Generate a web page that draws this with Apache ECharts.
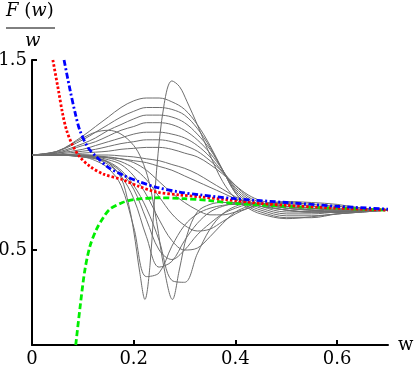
<!DOCTYPE html>
<html>
<head>
<meta charset="utf-8">
<script src="https://cdn.jsdelivr.net/npm/echarts@6/dist/echarts.min.js"></script>
<style>
  html, body { margin: 0; padding: 0; background: #fff; }
  #chart { width: 414px; height: 372px; }
</style>
</head>
<body>
<div id="chart"></div>
<script>
// shared w grid for most of the gray family
const W = [0, 0.05, 0.1, 0.125, 0.15, 0.175, 0.2, 0.225, 0.25, 0.275, 0.3, 0.325, 0.35, 0.375, 0.4, 0.425, 0.45, 0.5, 0.55, 0.6, 0.65, 0.7];

// curves bulging upward
const up1 = [1.00, 1.02, 1.10, 1.15, 1.20, 1.25, 1.285, 1.30, 1.30, 1.28, 1.24, 1.16, 1.05, 0.92, 0.80, 0.73, 0.70, 0.67, 0.67, 0.69, 0.70, 0.71];
const up2 = [1.00, 1.02, 1.08, 1.12, 1.16, 1.20, 1.23, 1.25, 1.25, 1.24, 1.21, 1.14, 1.04, 0.92, 0.80, 0.74, 0.71, 0.68, 0.68, 0.69, 0.70, 0.71];
const up3 = [1.00, 1.015, 1.06, 1.09, 1.13, 1.16, 1.19, 1.21, 1.21, 1.20, 1.17, 1.11, 1.03, 0.92, 0.81, 0.75, 0.72, 0.69, 0.69, 0.70, 0.705, 0.71];
const up4 = [1.00, 1.01, 1.05, 1.07, 1.10, 1.13, 1.15, 1.17, 1.17, 1.16, 1.13, 1.08, 1.01, 0.92, 0.82, 0.76, 0.73, 0.70, 0.70, 0.70, 0.705, 0.71];
const up5 = [1.00, 1.01, 1.03, 1.05, 1.07, 1.09, 1.11, 1.12, 1.12, 1.11, 1.09, 1.05, 0.99, 0.91, 0.83, 0.77, 0.74, 0.71, 0.70, 0.70, 0.705, 0.71];
const up6 = [1.00, 1.005, 1.02, 1.03, 1.045, 1.06, 1.07, 1.08, 1.08, 1.07, 1.05, 1.02, 0.97, 0.91, 0.84, 0.78, 0.75, 0.72, 0.71, 0.71, 0.71, 0.71];
const up7 = [1.00, 1.00, 1.01, 1.015, 1.02, 1.03, 1.035, 1.04, 1.04, 1.03, 1.01, 0.99, 0.95, 0.90, 0.84, 0.79, 0.76, 0.73, 0.72, 0.71, 0.71, 0.71];
// nearly flat ones
const flat1 = [1.00, 1.00, 0.995, 0.99, 0.985, 0.98, 0.97, 0.96, 0.94, 0.92, 0.89, 0.86, 0.83, 0.80, 0.77, 0.75, 0.74, 0.73, 0.72, 0.715, 0.71, 0.71];
const flat2 = [1.00, 1.00, 1.00, 1.00, 1.00, 0.995, 0.99, 0.98, 0.97, 0.95, 0.93, 0.90, 0.86, 0.82, 0.78, 0.75, 0.73, 0.71, 0.70, 0.70, 0.705, 0.71];
// curves dipping downward
const lowA = [1.00, 1.00, 0.99, 0.97, 0.93, 0.84, 0.62, 0.36, 0.38, 0.52, 0.63, 0.69, 0.72, 0.735, 0.74, 0.74, 0.73, 0.71, 0.70, 0.70, 0.705, 0.71];
const lowB = [1.00, 1.00, 0.99, 0.98, 0.95, 0.89, 0.77, 0.57, 0.41, 0.44, 0.55, 0.64, 0.70, 0.73, 0.745, 0.745, 0.74, 0.72, 0.71, 0.70, 0.705, 0.71];
const lowC = [1.00, 1.00, 0.995, 0.985, 0.965, 0.92, 0.84, 0.72, 0.55, 0.34, 0.33, 0.48, 0.61, 0.69, 0.73, 0.745, 0.745, 0.73, 0.71, 0.70, 0.705, 0.71];
const lowD = [1.00, 1.00, 0.99, 0.98, 0.96, 0.91, 0.82, 0.66, 0.50, 0.45, 0.50, 0.58, 0.64, 0.69, 0.72, 0.74, 0.745, 0.74, 0.72, 0.71, 0.71, 0.71];
const lowE = [1.00, 1.00, 0.995, 0.99, 0.975, 0.95, 0.89, 0.79, 0.66, 0.55, 0.50, 0.51, 0.57, 0.64, 0.70, 0.73, 0.745, 0.745, 0.73, 0.72, 0.715, 0.71];
const lowF = [1.00, 1.00, 1.00, 0.995, 0.985, 0.965, 0.93, 0.87, 0.78, 0.69, 0.63, 0.60, 0.61, 0.65, 0.69, 0.72, 0.74, 0.75, 0.74, 0.73, 0.72, 0.71];
const lowG = [1.00, 1.00, 1.00, 0.995, 0.99, 0.98, 0.96, 0.92, 0.86, 0.80, 0.75, 0.71, 0.685, 0.685, 0.70, 0.72, 0.74, 0.755, 0.75, 0.74, 0.72, 0.71];

// deep dip then tall peak (own grid, the features are narrow)
const tallW = [0, 0.05, 0.1, 0.125, 0.15, 0.175, 0.19, 0.2, 0.212, 0.222, 0.232, 0.245, 0.26, 0.275, 0.29, 0.305, 0.325, 0.35, 0.375, 0.4, 0.425, 0.45, 0.5, 0.55, 0.6, 0.65, 0.7];
const tallF = [1.00, 1.00, 0.995, 0.985, 0.96, 0.88, 0.74, 0.60, 0.38, 0.24, 0.42, 0.92, 1.27, 1.39, 1.36, 1.28, 1.16, 1.00, 0.86, 0.77, 0.72, 0.69, 0.665, 0.675, 0.69, 0.70, 0.71];
// early bump then deep dip
const earlyW = [0, 0.05, 0.1, 0.125, 0.15, 0.175, 0.2, 0.215, 0.23, 0.245, 0.26, 0.276, 0.29, 0.305, 0.325, 0.35, 0.375, 0.4, 0.45, 0.5, 0.55, 0.6, 0.65, 0.7];
const earlyF = [1.00, 1.02, 1.09, 1.12, 1.13, 1.11, 1.05, 0.98, 0.86, 0.65, 0.40, 0.24, 0.40, 0.58, 0.70, 0.74, 0.75, 0.75, 0.74, 0.72, 0.71, 0.705, 0.705, 0.71];

const gridCurves = [up1, up2, up3, up4, up5, up6, up7, flat1, flat2, lowA, lowB, lowC, lowD, lowE, lowF, lowG];

// the three reference curves
const redW = [0.041, 0.052, 0.06, 0.068, 0.08, 0.094, 0.114, 0.14, 0.178, 0.21, 0.245, 0.29, 0.33, 0.38, 0.45, 0.5, 0.6, 0.7];
const redF = [1.50, 1.34, 1.22, 1.13, 1.05, 0.99, 0.94, 0.90, 0.87, 0.835, 0.805, 0.79, 0.78, 0.765, 0.745, 0.735, 0.72, 0.71];
const blueW = [0.063, 0.075, 0.085, 0.094, 0.11, 0.127, 0.15, 0.178, 0.21, 0.245, 0.29, 0.33, 0.4, 0.5, 0.6, 0.7];
const blueF = [1.50, 1.34, 1.22, 1.13, 1.04, 0.99, 0.935, 0.895, 0.86, 0.83, 0.805, 0.79, 0.77, 0.75, 0.73, 0.715];
const greenW = [0.086, 0.095, 0.104, 0.114, 0.127, 0.14, 0.153, 0.178, 0.2, 0.25, 0.3, 0.35, 0.4, 0.5, 0.6, 0.7];
const greenF = [0, 0.21, 0.395, 0.52, 0.61, 0.67, 0.715, 0.75, 0.765, 0.775, 0.77, 0.76, 0.745, 0.73, 0.72, 0.71];

const xLabels = [0, 0.2, 0.4, 0.6];
const xTicks = [0.2, 0.4, 0.6];
const yTicks = [0.5, 1.5];

let zip = (xs, ys) => xs.map((x, i) => [x, ys[i]]);
let serif = 'DejaVu Serif';

let grayLine = (data) => ({
  type: 'line',
  data: data,
  smooth: 0.35,
  symbol: 'none',
  lineStyle: { color: '#6e6e6e', width: 1 },
  z: 2
});

let series = gridCurves.map(c => grayLine(zip(W, c)));
series.push(grayLine(zip(tallW, tallF)));
series.push(grayLine(zip(earlyW, earlyF)));

series.push({
  type: 'line', data: zip(greenW, greenF), smooth: 0.3, symbol: 'none', z: 3,
  lineStyle: { color: '#00ee00', width: 2.8, type: [6, 3] }
});
series.push({
  type: 'line', data: zip(redW, redF), smooth: 0.3, symbol: 'none', z: 4,
  lineStyle: { color: '#ff0000', width: 2.8, type: [2.5, 2] }
});
series.push({
  type: 'line', data: zip(blueW, blueF), smooth: 0.3, symbol: 'none', z: 5,
  lineStyle: { color: '#0000ff', width: 2.8, type: [6, 2.5, 2, 2.5] }
});

let chart = echarts.init(document.getElementById('chart'));
let option = {
  animation: false,
  backgroundColor: '#fff',
  textStyle: { fontFamily: serif },
  grid: { left: 32, right: 26, top: 60, bottom: 27, outerBoundsMode: 'none' },
  xAxis: {
    type: 'value',
    min: 0,
    max: 0.7,
    interval: 0.2,
    name: 'w',
    nameLocation: 'end',
    nameGap: 10,
    nameTextStyle: { fontFamily: serif, fontSize: 18, color: '#000', verticalAlign: 'middle' },
    axisLine: { lineStyle: { color: '#000', width: 2 } },
    axisTick: { inside: true, length: 5, lineStyle: { color: '#000', width: 2 }, customValues: xTicks },
    axisLabel: { fontFamily: serif, fontSize: 18, color: '#000', margin: 5, customValues: xLabels },
    splitLine: { show: false }
  },
  yAxis: {
    type: 'value',
    min: 0,
    max: 1.5,
    interval: 0.5,
    axisLine: { show: true, lineStyle: { color: '#000', width: 2 } },
    axisTick: { show: true, inside: true, length: 5, lineStyle: { color: '#000', width: 2 }, customValues: yTicks },
    axisLabel: { fontFamily: serif, fontSize: 18, color: '#000', margin: 5, customValues: yTicks },
    splitLine: { show: false }
  },
  graphic: [
    {
      type: 'text', left: 6, top: 2,
      style: {
        text: '{i|F} ({i|w})',
        fontFamily: serif, fontSize: 18, fill: '#000',
        rich: { i: { fontFamily: serif, fontStyle: 'italic', fontSize: 18, color: '#000' } }
      }
    },
    { type: 'line', shape: { x1: 6, y1: 28, x2: 55, y2: 28 }, style: { stroke: '#000', lineWidth: 1 } },
    { type: 'text', left: 25, top: 32, style: { text: 'w', fontFamily: serif, fontStyle: 'italic', fontSize: 18, fill: '#000' } }
  ],
  series: series
};
chart.setOption(option);
</script>
</body>
</html>
